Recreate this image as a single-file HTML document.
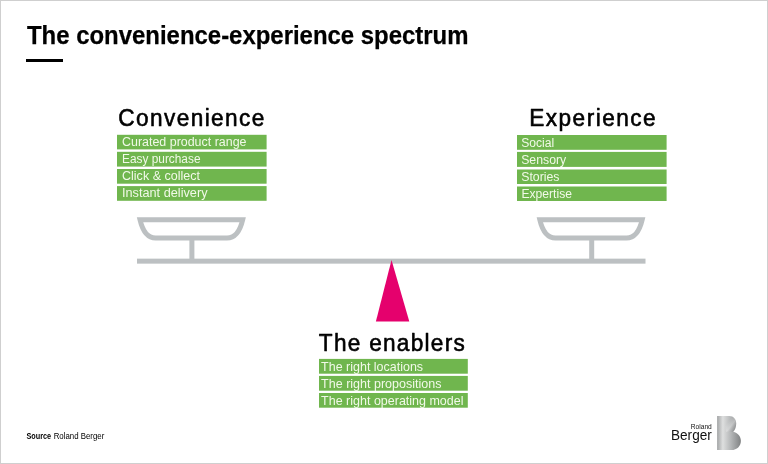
<!DOCTYPE html>
<html lang="en">
<head>
<meta charset="utf-8">
<title>The convenience-experience spectrum</title>
<style>
html,body{margin:0;padding:0;background:#fff;}
body{width:768px;height:464px;overflow:hidden;position:relative;font-family:"Liberation Sans",sans-serif;}
svg{position:absolute;left:0;top:0;display:block;will-change:transform;opacity:0.999;}
text{font-family:"Liberation Sans",sans-serif;}
.t{font-weight:bold;font-size:26px;fill:#000;stroke:#000;stroke-width:0.25px;}
.h{font-size:24.6px;fill:#000;stroke:#000;stroke-width:0.6px;stroke-linejoin:round;}
.l{font-size:12.3px;fill:#f1f9e8;}
.e{font-size:13.3px;}
.g{fill:#70b64e;}
.s{fill:none;stroke:#bcc0c2;stroke-width:5;}
</style>
</head>
<body>
<svg width="768" height="464" viewBox="0 0 768 464">
  <defs>
    <linearGradient id="bg" x1="0" y1="0" x2="1" y2="0">
      <stop offset="0" stop-color="#a2a4a5"/>
      <stop offset="0.24" stop-color="#dedfdf"/>
      <stop offset="0.55" stop-color="#b8babb"/>
      <stop offset="1" stop-color="#808283"/>
    </linearGradient>
    <linearGradient id="bh" x1="0" y1="0" x2="1" y2="1">
      <stop offset="0.35" stop-color="#ffffff" stop-opacity="0"/>
      <stop offset="0.6" stop-color="#ffffff" stop-opacity="0.28"/>
      <stop offset="0.85" stop-color="#6e7071" stop-opacity="0.25"/>
      <stop offset="1" stop-color="#6e7071" stop-opacity="0.4"/>
    </linearGradient>
  </defs>
  <rect x="0.5" y="0.5" width="767" height="463" fill="#fff" stroke="#cfcfcf" stroke-width="1"/>

  <!-- title -->
  <text class="t" x="27" y="43.8" textLength="441.5" lengthAdjust="spacingAndGlyphs">The convenience-experience spectrum</text>
  <rect x="26" y="59" width="37" height="3" fill="#000"/>

  <!-- scale -->
  <rect x="137" y="258.65" width="508.5" height="5" fill="#bcc0c2"/>
  <rect x="189.4" y="240" width="5" height="19" fill="#bcc0c2"/>
  <rect x="589.2" y="240" width="5" height="19" fill="#bcc0c2"/>
  <path class="s" d="M140 219.7 H242.7 C240.4 229.5 236 238 227 238 H155.7 C146.7 238 142.3 229.5 140 219.7 Z" stroke-linejoin="miter"/>
  <path class="s" d="M539.8 219.7 H642.2 C639.9 229.5 635.5 238 626.5 238 H555.5 C546.5 238 542.1 229.5 539.8 219.7 Z" stroke-linejoin="miter"/>
  <polygon points="391.5,260 409.3,321.5 375.9,321.5" fill="#e5006d"/>

  <!-- convenience -->
  <text class="h" transform="translate(118.2 126.4) scale(0.92 1)" textLength="158.9" lengthAdjust="spacing">Convenience</text>
  <rect class="g" x="117" y="134.8" width="149.6" height="14.6"/>
  <rect class="g" x="117" y="151.8" width="149.6" height="14.8"/>
  <rect class="g" x="117" y="169" width="149.6" height="14.7"/>
  <rect class="g" x="117" y="186.1" width="149.6" height="14.7"/>
  <text class="l" x="122" y="146.1" textLength="124.5" lengthAdjust="spacingAndGlyphs">Curated product range</text>
  <text class="l" x="122" y="163.1" textLength="78.5" lengthAdjust="spacingAndGlyphs">Easy purchase</text>
  <text class="l" x="122" y="180.1" textLength="78" lengthAdjust="spacingAndGlyphs">Click &amp; collect</text>
  <text class="l" x="122" y="197.1" textLength="85.5" lengthAdjust="spacingAndGlyphs">Instant delivery</text>

  <!-- experience -->
  <text class="h" transform="translate(529.2 125.6) scale(0.92 1)" textLength="137.4" lengthAdjust="spacing">Experience</text>
  <rect class="g" x="517" y="135" width="149.6" height="14.8"/>
  <rect class="g" x="517" y="151.9" width="149.6" height="15"/>
  <rect class="g" x="517" y="169.5" width="149.6" height="14.5"/>
  <rect class="g" x="517" y="186.5" width="149.6" height="14.5"/>
  <text class="l" x="521.2" y="147" textLength="33" lengthAdjust="spacingAndGlyphs">Social</text>
  <text class="l" x="521.2" y="164" textLength="45" lengthAdjust="spacingAndGlyphs">Sensory</text>
  <text class="l" x="521.2" y="181" textLength="38.3" lengthAdjust="spacingAndGlyphs">Stories</text>
  <text class="l" x="521.4" y="198" textLength="50.6" lengthAdjust="spacingAndGlyphs">Expertise</text>

  <!-- enablers -->
  <text class="h" transform="translate(318.8 351.2) scale(0.92 1)" textLength="158.7" lengthAdjust="spacing">The enablers</text>
  <rect class="g" x="319" y="358.9" width="148.8" height="14.8"/>
  <rect class="g" x="319" y="375.9" width="148.8" height="14.8"/>
  <rect class="g" x="319" y="393" width="148.8" height="14.7"/>
  <text class="l e" x="321.1" y="370.5" textLength="102" lengthAdjust="spacingAndGlyphs">The right locations</text>
  <text class="l e" x="321.1" y="387.5" textLength="120.4" lengthAdjust="spacingAndGlyphs">The right propositions</text>
  <text class="l e" x="321.1" y="404.5" textLength="142.4" lengthAdjust="spacingAndGlyphs">The right operating model</text>

  <!-- footer -->
  <text x="26.5" y="439.4" font-size="9" font-weight="bold" fill="#000" textLength="24.6" lengthAdjust="spacingAndGlyphs">Source</text>
  <text x="53.7" y="439.4" font-size="9" fill="#000" textLength="50.6" lengthAdjust="spacingAndGlyphs">Roland Berger</text>

  <!-- logo -->
  <text x="690.8" y="428.7" font-size="7" fill="#111" textLength="21" lengthAdjust="spacingAndGlyphs">Roland</text>
  <text x="671" y="439.7" font-size="14" fill="#111" textLength="40.8" lengthAdjust="spacingAndGlyphs">Berger</text>
  <path fill="url(#bg)" d="M717.1 416.1 H729.5 C733.5 416.1 736.2 419.3 736.2 423.5 C736.2 427 735 430 733.2 431.7 C737.8 432.8 740.9 436.3 740.9 440.8 C740.9 446.3 737 450.1 731.5 450.1 H717.1 Z"/>
  <path fill="url(#bh)" d="M724 416.1 H729.5 C733.5 416.1 736.2 419.3 736.2 423.5 C736.2 427 735 430 733.2 431.7 L726 431.7 Z"/>
</svg>
</body>
</html>
